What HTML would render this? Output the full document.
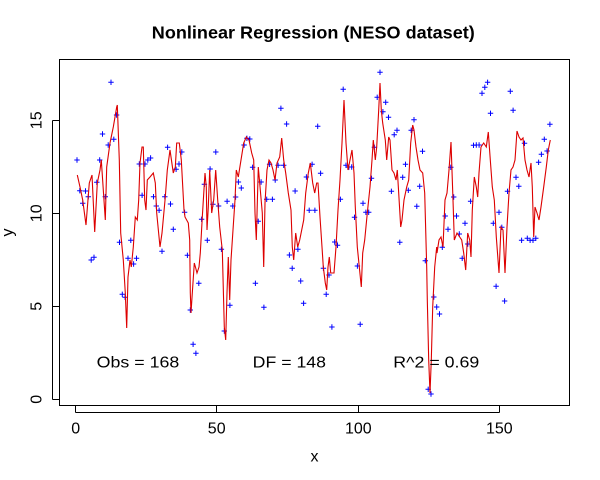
<!DOCTYPE html>
<html><head><meta charset="utf-8"><style>
html,body{margin:0;padding:0;background:#fff}
svg{display:block}
text{font-family:"Liberation Sans",Arial,sans-serif;fill:#000}
</style></head><body>
<svg width="600" height="480" viewBox="0 0 600 480" xmlns="http://www.w3.org/2000/svg">
<defs>
<marker id="p" markerUnits="userSpaceOnUse" markerWidth="8" markerHeight="8" refX="4" refY="4" overflow="visible">
<path d="M1.3,4h5.4M4,1.3v5.4" stroke="#0000ff" stroke-width="1" fill="none"/>
</marker>
</defs>
<rect x="0" y="0" width="600" height="480" fill="#fff"/>
<text x="313.3" y="38.3" text-anchor="middle" font-size="17.5" font-weight="bold" textLength="323" lengthAdjust="spacingAndGlyphs">Nonlinear Regression (NESO dataset)</text>

<polyline fill="none" stroke="none" marker-start="url(#p)" marker-mid="url(#p)" marker-end="url(#p)" points="77,160 79.8,190.7 82.7,203.3 85.5,191 88.3,196.7 91.2,260 94,257.3 96.8,182.3 99.7,160 102.5,134 105.3,196.7 108.2,145 111,82.3 113.8,139.3 116.6,115 119.5,242.3 122.3,294.3 125.1,297.3 128,258.3 130.8,240.3 133.6,264 136.5,258.3 139.3,164 142.1,195.3 145,164 147.8,160 150.6,158 153.5,196.7 156.3,206 159.1,210.3 162,251.3 164.8,196.7 167.6,147.3 170.5,204 173.3,229.3 176.1,169.3 179,164 181.8,152 184.6,212.3 187.4,255.3 190.3,310 193.1,344.3 195.9,353.3 198.8,283.3 201.6,219.3 204.4,184.3 207.3,240.3 210.1,169 212.9,204.3 215.8,152 218.6,206 221.4,249.3 224.3,331 227.1,201.3 229.9,305.3 232.8,206 235.6,197 238.4,182 241.3,188 244.1,145 246.9,138.3 249.8,139 252.6,167.3 255.4,283.3 258.2,221.3 261.1,182 263.9,307.3 266.7,199.3 269.6,164.3 272.4,199.3 275.2,180 278.1,165.3 280.9,108.3 283.7,165.3 286.6,124 289.4,255 292.2,268.3 295.1,191 297.9,249.3 300.7,281 303.6,303.3 306.4,177 309.2,210.3 312.1,164.3 314.9,210.3 317.7,126.3 320.6,173.3 323.4,268.3 326.2,294.3 329,275 331.9,327 334.7,242 337.5,245.3 340.4,199.3 343.2,89.3 346,165.3 348.9,167 351.7,167 354.5,217.3 357.4,266 360.2,324.3 363,203.3 365.9,212.3 368.7,212.3 371.5,178.3 374.4,147.3 377.2,97.3 380,72.3 382.9,111.7 385.7,102.3 388.5,117.3 391.4,191.3 394.2,134.7 397,130.3 399.8,242.3 402.7,177.3 405.5,164.3 408.3,190.3 411.2,130.3 414,119.7 416.8,206.3 419.7,186.3 422.5,151.3 425.3,260.7 428.2,389.3 431,394 433.8,297 436.7,307 439.5,314 442.3,247.3 445.2,216 448,229.3 450.8,167.3 453.7,197 456.5,216 459.3,234 462.2,258.3 465,223.3 467.8,244 470.6,201.3 473.5,145.3 476.3,145 479.1,145 482,93.3 484.8,87.3 487.6,82.3 490.5,113.3 493.3,223.3 496.1,286.3 499,212.3 501.8,227.3 504.6,301 507.5,191.3 510.3,91.3 513.1,110.3 516,177.3 518.8,186.3 521.6,240.3 524.5,143.3 527.3,238.3 530.1,240.3 533,240.3 535.8,238.3 538.6,162.3 541.4,154.3 544.3,139.3 547.1,151 549.9,124.3"/>

<polyline fill="none" stroke="#dd0000" stroke-width="1.1" points="77.3,175 80,187 82.7,200 86,225 89.3,183 92,175 94.7,232 97.3,183 100,170 101.3,160 105.3,220 106.7,167 110,143 113.3,127 116.7,107 117.3,105 119.3,160 120.7,233 123.3,260 125.3,293 126.7,328 128,277 130,260 131.3,267 133.3,247 135.3,217 137.3,220 138.7,200 140,163 142,147 143.3,147 144.7,200 146,210 147.3,180 150,177 153.3,173 155.3,183 156.7,213 160,247 162,233 165.3,197 167.3,170 170,150 173.3,173 175.3,167 176.7,143 179.3,143 181.3,160 184,210 185,217 188.3,223 189.7,240 190.3,293 191,313 192.3,293 194.3,263 195.7,268 197,273 199,267 200.3,253 202.3,217 205,173 206.3,187 207,230 208.3,207 209.7,170 211.7,213 213.7,200 215.7,170 217.7,200 219.7,227 222.3,250 224.3,327 225.7,340 227,293 228.3,257 229.7,300 231,260 233,230 235,200 236.3,170 238.3,177 241,160 243.7,143 246.3,137 249,140 251.7,153 253.7,160 255,213 256.3,240 258.3,167 260.3,190 262.3,213 263.7,267 265,203 267,170 269,160 271,163 273,170 275,180 277,163 279.7,157 281.7,138 283.7,160 285.7,173 288.3,193 291,210 292.3,247 293.7,260 295.7,233 297.7,247 299.7,240 301.7,230 303.7,220 305.7,193 308.3,173 310.3,163 312.7,183 314.7,193 316.7,183 318,183 320,217 322,247 323.3,267 325.3,283 326.7,290 328,267 329.3,257 330.7,273 334,273 336,247 338,210 340,180 342,143 344,100 346,143 348,170 350,160 352,150 354,173 355.3,207 357.3,247 359.3,267 361.3,287 362.7,253 364.7,240 367.3,213 370,187 372,160 373.3,140 375.3,160 376.7,147 378.7,110 380,83 381.3,110 382.7,123 385.3,140 386.7,160 388.7,137 390,140 392,170 394,173 396,180 397.3,170 398.7,193 400.7,227 402,220 404,200 406.7,187 408.7,180 410.7,143 412.7,125 414,130 416,147 418,160 420,170 422.7,173 424.7,193 426.7,267 427.3,300 428.7,360 430,393 431.3,360 432.7,307 434.7,267 436.7,247 437,253 439,240 441,237 443,247 445,200 447,193 449,170 451,142 453,200 454.3,240 457,233 459.7,237 461.7,240 463.7,253 465.7,270 467.7,233 469.7,240 471,257 472.3,210 474.3,177 476.3,187 477.7,197 479,173 481,147 483.7,143 486.3,147 488.3,132 490.3,160 492.3,187 494.3,200 496.3,237 499,273 501,227 503,230 505,273 507,227 509,193 511,170 513,167 515,160 517,131 519,137 521,140 523,138 525,160 527,170 529,177 531,163 532.3,187 533.7,237 535,207 537,213 539,220 541,207 543.7,187 546.3,167 548.3,150 550.3,140"/>

<rect x="59.5" y="59.5" width="510" height="346" fill="none" stroke="#000" stroke-width="1"/>

<path stroke="#000" stroke-width="1" fill="none" d="M75.5,405.5V412.5M216.5,405.5V412.5M358.5,405.5V412.5M499.5,405.5V412.5M75.5,412.5H499.5"/>
<path stroke="#000" stroke-width="1" fill="none" d="M59.5,399.5H52.5M59.5,306.5H52.5M59.5,213.5H52.5M59.5,120.5H52.5M52.5,120.5V399.5"/>

<g font-size="16" text-anchor="middle">
<text x="75.7" y="433.3">0</text>
<text x="216.7" y="433.3">50</text>
<text x="358.3" y="433.3">100</text>
<text x="499.3" y="433.3">150</text>
<text x="314.5" y="461.5">x</text>
<text transform="translate(41.7,399.3) rotate(-90)">0</text>
<text transform="translate(41.7,306.3) rotate(-90)">5</text>
<text transform="translate(41.7,213.3) rotate(-90)">10</text>
<text transform="translate(41.7,120.3) rotate(-90)">15</text>
<text transform="translate(12.5,232.5) rotate(-90)">y</text>
</g>

<g font-size="16">
<text x="96.7" y="367.7" textLength="82.6" lengthAdjust="spacingAndGlyphs">Obs = 168</text>
<text x="252.7" y="367.7" textLength="73.3" lengthAdjust="spacingAndGlyphs">DF = 148</text>
<text x="393.3" y="367.7" textLength="86" lengthAdjust="spacingAndGlyphs">R^2 = 0.69</text>
</g>
</svg>
</body></html>
